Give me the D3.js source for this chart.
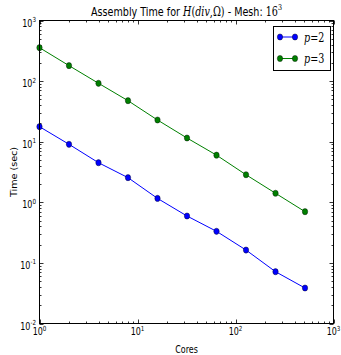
<!DOCTYPE html>
<html>
<head>
<meta charset="utf-8">
<script src="https://cdn.jsdelivr.net/npm/d3@7"></script>
<style>
  html, body { margin: 0; padding: 0; background: #fff; }
  svg text { font-family: "DejaVu Sans", sans-serif; fill: #000; }
  .math { font-family: "DejaVu Serif", serif; font-style: italic; }
  .rm { font-family: "DejaVu Serif", serif; }
</style>
</head>
<body>
<script>
// Core counts and assembly times (seconds) for each polynomial order
const cores = [1, 2, 4, 8, 16, 32, 64, 128, 256, 512];
const timeP2 = [17.7, 9.06, 4.5, 2.55, 1.16, 0.594, 0.332, 0.163, 0.0716, 0.0385];
const timeP3 = [356, 180, 92, 47.5, 22.8, 11.5, 6.0, 2.85, 1.41, 0.70];
const seriesNames = ["p=2", "p=3"];
const seriesColors = ["#0000ff", "#008000"];
const xTickExps = [0, 1, 2, 3];
const yTickExps = [-2, -1, 0, 1, 2, 3];

const W = 341, H = 355;
const m = { left: 39.5, right: 7.5, top: 20.5, bottom: 31.5 };
const SX = 0.8; // horizontal squeeze applied to glyphs

const svg = d3.select("body").append("svg")
  .attr("width", W).attr("height", H);

const x = d3.scaleLog().domain([1, 1000]).range([m.left, W - m.right]);
const y = d3.scaleLog().domain([0.01, 1000]).range([H - m.bottom, m.top]);

const x0 = x.range()[0], x1 = x.range()[1];
const y0 = y.range()[0], y1 = y.range()[1];

// Text helper: anchored at (px, py), glyphs squeezed horizontally
function label(px, py, anchor, size) {
  return svg.append("g").attr("transform", `translate(${px},${py}) scale(${SX},1)`)
    .append("text").attr("text-anchor", anchor).attr("font-size", size);
}

// Tick marks on all four sides, pointing inward
const ticks = svg.append("g").attr("stroke", "#000").attr("stroke-width", 0.8);
function minorVals(lo, hi) {
  const out = [];
  for (let e = lo; e < hi; e++) for (let k = 2; k <= 9; k++) out.push(k * Math.pow(10, e));
  return out;
}
const xMaj = xTickExps.map(e => Math.pow(10, e));
const yMaj = yTickExps.map(e => Math.pow(10, e));
const xMin = minorVals(0, 3), yMin = minorVals(-2, 3);
[[xMaj, 4], [xMin, 2]].forEach(([vals, len]) => {
  vals.forEach(v => {
    const px = Math.round(x(v)) + 0.5;
    ticks.append("line").attr("x1", px).attr("x2", px).attr("y1", y0).attr("y2", y0 - len);
    ticks.append("line").attr("x1", px).attr("x2", px).attr("y1", y1).attr("y2", y1 + len);
  });
});
[[yMaj, 4], [yMin, 2]].forEach(([vals, len]) => {
  vals.forEach(v => {
    const py = Math.round(y(v)) + 0.5;
    ticks.append("line").attr("y1", py).attr("y2", py).attr("x1", x0).attr("x2", x0 + len);
    ticks.append("line").attr("y1", py).attr("y2", py).attr("x1", x1).attr("x2", x1 - len);
  });
});

// Tick labels as powers of ten
function powLabel(e, px, py, anchor) {
  const t = label(px, py, anchor, 10);
  t.append("tspan").text("10");
  t.append("tspan").attr("dy", -4.5).attr("font-size", 7).text(e < 0 ? "-" + (-e) : String(e));
}
xTickExps.forEach(e => powLabel(e, x(Math.pow(10, e)), y0 + 11.5, "middle"));
yTickExps.forEach(e => powLabel(e, x0 - 3.5, y(Math.pow(10, e)) + 6, "end"));

// Series lines and markers
const line = d3.line().x((d, i) => x(cores[i])).y(d => y(d));
[timeP2, timeP3].forEach((vals, s) => {
  svg.append("path").datum(vals).attr("d", line)
    .attr("fill", "none").attr("stroke", seriesColors[s]).attr("stroke-width", 1);
  svg.append("g").selectAll("ellipse").data(vals).join("ellipse")
    .attr("cx", (d, i) => x(cores[i])).attr("cy", d => y(d)).attr("rx", 2.7).attr("ry", 3.1)
    .attr("fill", seriesColors[s]).attr("stroke", "#000").attr("stroke-width", 0.4);
});

// Plot frame
svg.append("rect").attr("x", x0).attr("y", y1).attr("width", x1 - x0).attr("height", y0 - y1)
  .attr("fill", "none").attr("stroke", "#000").attr("stroke-width", 1);

// Title
const title = label((x0 + x1) / 2, 15.5, "middle", 12);
title.append("tspan").text("Assembly Time for ");
title.append("tspan").attr("class", "math").text("H");
title.append("tspan").attr("class", "rm").text("(");
title.append("tspan").attr("class", "math").text("div");
title.append("tspan").attr("class", "rm").text(",Ω)");
title.append("tspan").text(" - Mesh: ");
title.append("tspan").attr("class", "rm").text("16");
title.append("tspan").attr("class", "rm").attr("dy", -5.5).attr("font-size", 8).text("3");

// Axis labels
label((x0 + x1) / 2, 353, "middle", 10).text("Cores");
svg.append("g").attr("transform", `translate(16.5,${(y0 + y1) / 2}) rotate(-90) scale(1,0.95)`)
  .append("text").attr("text-anchor", "middle").attr("font-size", 9.6).text("Time (sec)");

// Legend
const lg = svg.append("g");
lg.append("rect").attr("x", 273.5).attr("y", 26.5).attr("width", 57).attr("height", 44)
  .attr("fill", "#fff").attr("stroke", "#000").attr("stroke-width", 1);
seriesNames.forEach((name, s) => {
  const ly = 37 + s * 21.5;
  lg.append("line").attr("x1", 280).attr("x2", 295).attr("y1", ly).attr("y2", ly)
    .attr("stroke", seriesColors[s]).attr("stroke-width", 1);
  [280, 295].forEach(cx => lg.append("ellipse").attr("cx", cx).attr("cy", ly).attr("rx", 2.7).attr("ry", 3.1)
    .attr("fill", seriesColors[s]).attr("stroke", "#000").attr("stroke-width", 0.4));
  const [pv, nv] = name.split("=");
  const t = label(304, ly + 4.5, "start", 12);
  t.append("tspan").attr("class", "math").text(pv);
  t.append("tspan").attr("class", "rm").text("=" + nv);
});
</script>
</body>
</html>
